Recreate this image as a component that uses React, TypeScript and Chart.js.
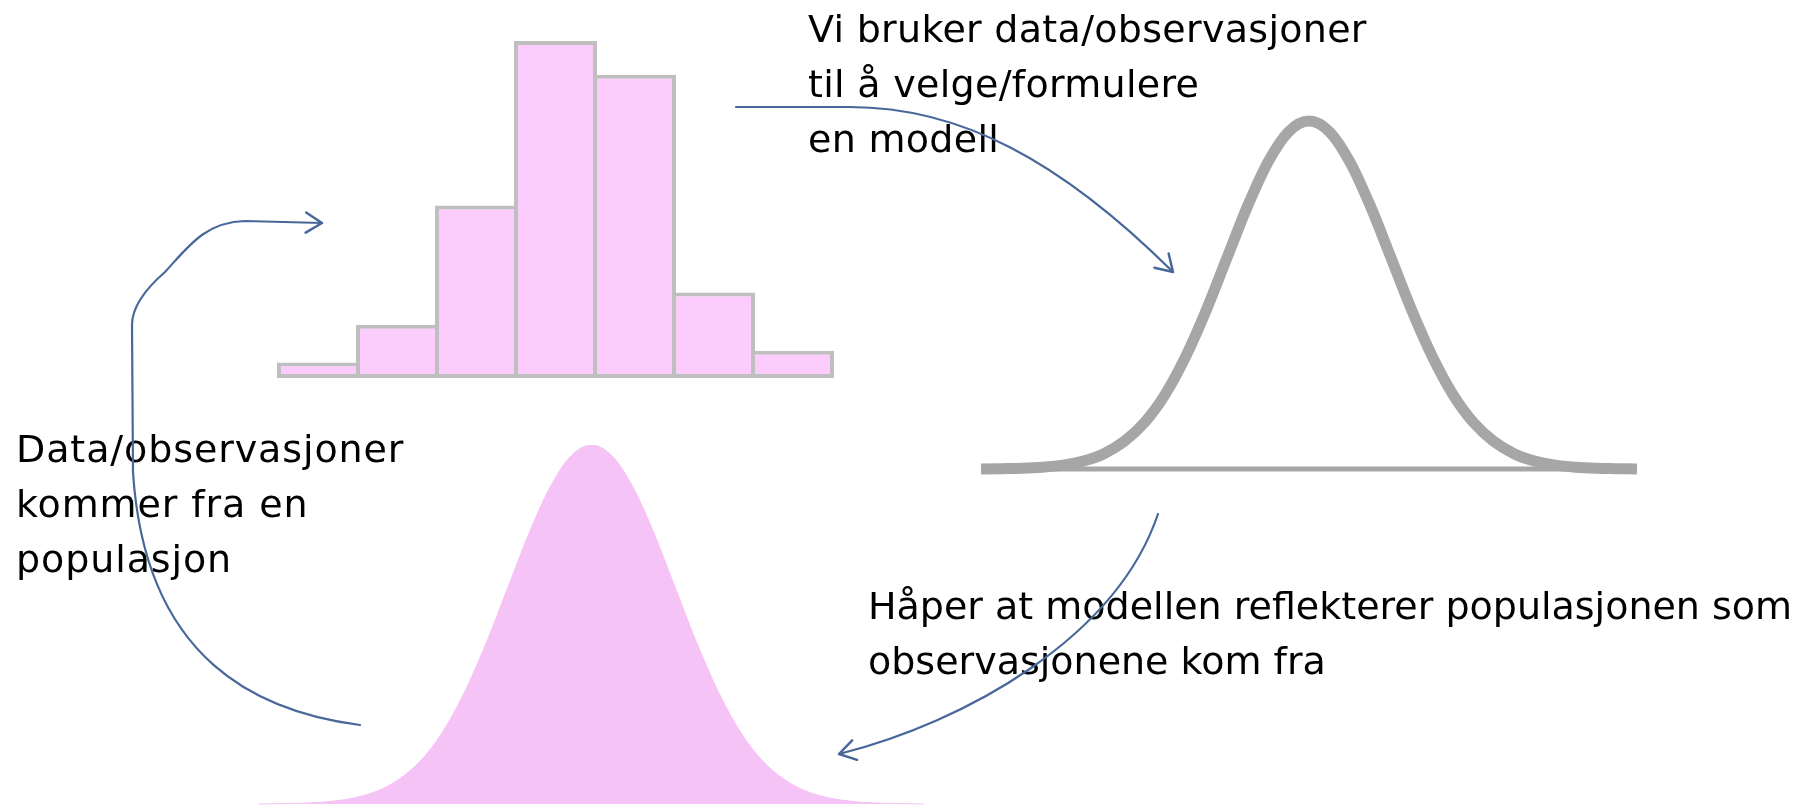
import React, { useEffect, useRef } from "react";
import { Chart, registerables } from "chart.js";

Chart.register(...registerables);

// ---------- data ----------
// Histogram of observations (7 bins)
const HIST_BINS = ["1", "2", "3", "4", "5", "6", "7"];
const HIST_COUNTS = [1.2, 4.1, 13.3, 26, 23.4, 6.6, 2.1];
const HIST_MAX = 26;

// Bell curves: position in standard deviations and relative height
const CURVE_Z = [
  -4, -3.75, -3.5, -3.25, -3, -2.75, -2.5, -2.25, -2, -1.75, -1.5, -1.25, -1, -0.75, -0.5, -0.25, 0,
  0.25, 0.5, 0.75, 1, 1.25, 1.5, 1.75, 2, 2.25, 2.5, 2.75, 3, 3.25, 3.5, 3.75, 4,
];
const MODEL_CURVE = [
  0.0, 0.001, 0.002, 0.005, 0.011, 0.023, 0.044, 0.08, 0.135, 0.216, 0.325, 0.458, 0.607, 0.755, 0.882, 0.969, 1,
  0.969, 0.882, 0.755, 0.607, 0.458, 0.325, 0.216, 0.135, 0.08, 0.044, 0.023, 0.011, 0.005, 0.002, 0.001, 0.0,
];
const POPULATION_CURVE = [
  0.0, 0.001, 0.002, 0.005, 0.011, 0.023, 0.044, 0.08, 0.135, 0.216, 0.325, 0.458, 0.607, 0.755, 0.882, 0.969, 1,
  0.969, 0.882, 0.755, 0.607, 0.458, 0.325, 0.216, 0.135, 0.08, 0.044, 0.023, 0.011, 0.005, 0.002, 0.001, 0.0,
];

// Arrow paths on the page (tail -> head), as path commands in page units
const ARROW_DATA_TO_MODEL: (string | number)[][] = [
  ["M", 736, 107],
  ["L", 850, 107],
  ["C", 960, 107, 1060, 160, 1173, 272],
];
const ARROW_POP_TO_DATA: (string | number)[][] = [
  ["M", 360, 725],
  ["C", 260, 712, 145, 662, 133, 472],
  ["L", 132, 325],
  ["C", 132, 305, 150, 285, 165, 272],
  ["C", 188, 247, 205, 222, 245, 221],
  ["L", 322, 223],
];
const ARROW_MODEL_TO_POP: (string | number)[][] = [
  ["M", 1158, 514],
  ["C", 1116, 638, 966, 722, 839, 754],
];

// Texts
const TEXT_MODEL = ["Vi bruker data/observasjoner", "til å velge/formulere", "en modell"];
const TEXT_POP = ["Data/observasjoner", "kommer fra en", "populasjon"];
const TEXT_HOPE = ["Håper at modellen reflekterer populasjonen som", "observasjonene kom fra"];

// ---------- styles ----------
const HIST_FILL = "#FCCCFC";
const HIST_EDGE = "#BFBFBF";
const MODEL_COLOR = "#A6A6A6";
const POP_FILL = "#F5C3F5";
const ARROW_COLOR = "#48689A";
const PAGE_W = 1818;
const PAGE_H = 806;

const toPoints = (xs: number[], ys: number[]) => xs.map((x, i) => ({ x, y: ys[i] }));

const ARROWS = [ARROW_DATA_TO_MODEL, ARROW_POP_TO_DATA, ARROW_MODEL_TO_POP];

const arrowPlugin = {
  id: "arrowPaths",
  afterDatasetsDraw(chart: any) {
    const ctx = chart.ctx;
    const sx = chart.scales.x;
    const sy = chart.scales.y;
    const px = (v: number) => sx.getPixelForValue(v);
    const py = (v: number) => sy.getPixelForValue(v);
    ctx.save();
    ctx.strokeStyle = ARROW_COLOR;
    ctx.lineCap = "round";
    ctx.lineJoin = "round";
    ARROWS.forEach((path) => {
      let lastX = 0, lastY = 0, prevX = 0, prevY = 0;
      ctx.lineWidth = 2.2;
      ctx.beginPath();
      path.forEach((cmd) => {
        const k = cmd[0];
        const v = cmd.slice(1) as number[];
        if (k === "M") {
          ctx.moveTo(px(v[0]), py(v[1]));
          prevX = lastX = px(v[0]);
          prevY = lastY = py(v[1]);
        } else if (k === "L") {
          prevX = lastX;
          prevY = lastY;
          lastX = px(v[0]);
          lastY = py(v[1]);
          ctx.lineTo(lastX, lastY);
        } else if (k === "C") {
          ctx.bezierCurveTo(px(v[0]), py(v[1]), px(v[2]), py(v[3]), px(v[4]), py(v[5]));
          prevX = px(v[2]);
          prevY = py(v[3]);
          lastX = px(v[4]);
          lastY = py(v[5]);
        }
      });
      ctx.stroke();
      const ang = Math.atan2(lastY - prevY, lastX - prevX);
      const len = 19;
      const spread = (32 * Math.PI) / 180;
      ctx.lineWidth = 2.5;
      ctx.beginPath();
      ctx.moveTo(lastX - len * Math.cos(ang - spread), lastY - len * Math.sin(ang - spread));
      ctx.lineTo(lastX, lastY);
      ctx.lineTo(lastX - len * Math.cos(ang + spread), lastY - len * Math.sin(ang + spread));
      ctx.stroke();
    });
    ctx.restore();
  },
};

const baseOptions = {
  responsive: false,
  animation: false as const,
  events: [] as any[],
  plugins: { legend: { display: false }, tooltip: { enabled: false } },
};

const textStyle: React.CSSProperties = {
  position: "absolute",
  fontFamily: '"DejaVu Sans", sans-serif',
  fontSize: "38px",
  lineHeight: "55px",
  color: "#000",
  whiteSpace: "pre",
  margin: 0,
};

export default function App() {
  const histRef = useRef<HTMLCanvasElement>(null);
  const modelRef = useRef<HTMLCanvasElement>(null);
  const popRef = useRef<HTMLCanvasElement>(null);
  const arrowRef = useRef<HTMLCanvasElement>(null);

  useEffect(() => {
    const charts: Chart[] = [];

    charts.push(
      new Chart(histRef.current!, {
        type: "bar",
        data: {
          labels: HIST_BINS,
          datasets: [
            {
              data: HIST_COUNTS,
              backgroundColor: HIST_FILL,
              borderColor: HIST_EDGE,
              borderWidth: 4,
              borderSkipped: false,
              barPercentage: 83 / 79,
              categoryPercentage: 1,
              clip: false as any,
            } as any,
          ],
        },
        options: {
          ...baseOptions,
          layout: { padding: { left: 4, right: 4, top: 0, bottom: 0 } },
          scales: {
            x: { display: false },
            y: { display: false, min: 0, max: HIST_MAX },
          },
        } as any,
      })
    );

    charts.push(
      new Chart(modelRef.current!, {
        type: "line",
        data: {
          datasets: [
            {
              data: toPoints(CURVE_Z, MODEL_CURVE),
              borderColor: MODEL_COLOR,
              borderWidth: 11,
              borderJoinStyle: "round",
              pointRadius: 0,
              cubicInterpolationMode: "monotone",
              fill: false,
              clip: false as any,
              order: 0,
            } as any,
            {
              data: [
                { x: CURVE_Z[0], y: 0 },
                { x: CURVE_Z[CURVE_Z.length - 1], y: 0 },
              ],
              borderColor: MODEL_COLOR,
              borderWidth: 5,
              pointRadius: 0,
              fill: false,
              clip: false as any,
              order: 1,
            } as any,
          ],
        },
        options: {
          ...baseOptions,
          layout: { padding: { left: 6, right: 6, top: 21, bottom: 21 } },
          scales: {
            x: { type: "linear", display: false, min: -4, max: 4 },
            y: { display: false, min: 0, max: 1 },
          },
        } as any,
      })
    );

    charts.push(
      new Chart(popRef.current!, {
        type: "line",
        data: {
          datasets: [
            {
              data: toPoints(CURVE_Z, POPULATION_CURVE),
              borderColor: POP_FILL,
              backgroundColor: POP_FILL,
              borderWidth: 1,
              pointRadius: 0,
              cubicInterpolationMode: "monotone",
              fill: "origin",
              clip: false as any,
            } as any,
          ],
        },
        options: {
          ...baseOptions,
          layout: { padding: { left: 0, right: 0, top: 0, bottom: 2 } },
          scales: {
            x: { type: "linear", display: false, min: -4, max: 4 },
            y: { display: false, min: 0, max: 1 },
          },
        } as any,
      })
    );

    charts.push(
      new Chart(arrowRef.current!, {
        type: "scatter",
        data: { datasets: [] },
        options: {
          ...baseOptions,
          layout: { padding: 0 },
          scales: {
            x: { type: "linear", display: false, min: 0, max: PAGE_W },
            y: { type: "linear", display: false, min: 0, max: PAGE_H, reverse: true },
          },
        } as any,
        plugins: [arrowPlugin],
      })
    );

    return () => charts.forEach((c) => c.destroy());
  }, []);

  return (
    <div
      style={{
        position: "fixed",
        left: 0,
        top: 0,
        width: PAGE_W,
        height: PAGE_H,
        background: "#fff",
        overflow: "hidden",
      }}
    >
      <canvas ref={histRef} width={561} height={337} style={{ position: "absolute", left: 275, top: 41 }} />
      <canvas ref={modelRef} width={668} height={390} style={{ position: "absolute", left: 975, top: 100 }} />
      <canvas ref={popRef} width={665} height={361} style={{ position: "absolute", left: 259, top: 445 }} />
      <div style={{ ...textStyle, left: 808, top: 2, letterSpacing: "0.3px" }}>{TEXT_MODEL.join("\n")}</div>
      <div style={{ ...textStyle, left: 16, top: 422, letterSpacing: "0.9px" }}>{TEXT_POP.join("\n")}</div>
      <div style={{ ...textStyle, left: 868, top: 579 }}>{TEXT_HOPE.join("\n")}</div>
      <canvas
        ref={arrowRef}
        width={PAGE_W}
        height={PAGE_H}
        style={{ position: "absolute", left: 0, top: 0, pointerEvents: "none" }}
      />
    </div>
  );
}
